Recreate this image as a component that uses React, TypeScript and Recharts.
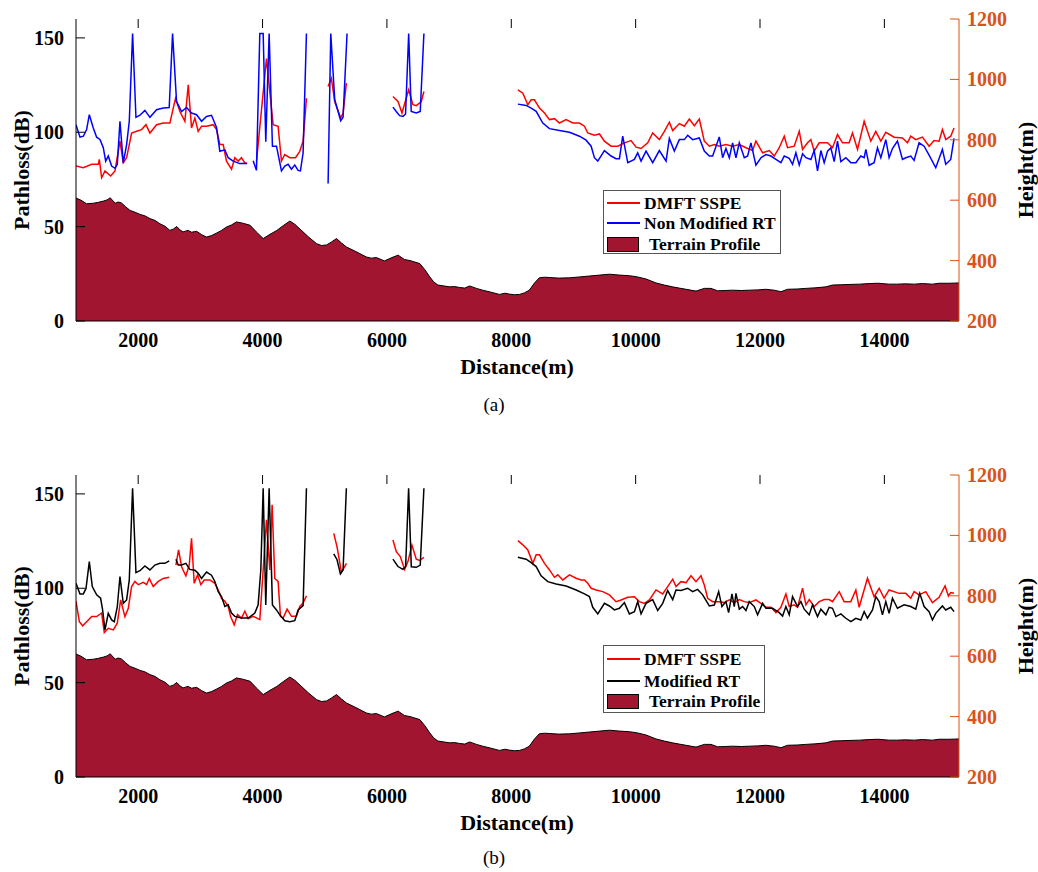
import React from 'react';
import { ComposedChart, Line, Area, XAxis, YAxis } from 'recharts';

type Pt = [number, number];

const xTicks = [2000, 4000, 6000, 8000, 10000, 12000, 14000];
const lossTicks = [0, 50, 100, 150];
const heightTicks = [200, 400, 600, 800, 1000, 1200];

// terrain height (m) along the path
const terrain: Pt[] = [
  [1000, 607], [1080, 600], [1170, 588], [1280, 590], [1360, 593], [1440, 597], [1500, 601], [1550, 608],
  [1630, 590], [1680, 594], [1730, 591], [1800, 578], [1870, 566], [1950, 560], [2030, 553], [2110, 548],
  [2190, 539], [2270, 533], [2350, 522], [2430, 514], [2510, 500], [2570, 505], [2620, 513], [2670, 502],
  [2720, 495], [2800, 500], [2860, 494], [2940, 497], [3020, 486], [3100, 478], [3180, 483], [3260, 491],
  [3340, 500], [3420, 511], [3500, 518], [3580, 528], [3680, 524], [3800, 517], [3900, 495], [4010, 473],
  [4120, 487], [4230, 500], [4340, 517], [4440, 531], [4520, 520], [4600, 505], [4740, 478], [4870, 456],
  [4950, 450], [5030, 452], [5110, 462], [5190, 473], [5270, 458], [5350, 445], [5500, 430], [5670, 412],
  [5750, 408], [5830, 410], [5960, 399], [6080, 410], [6180, 418], [6280, 404], [6390, 399], [6530, 390],
  [6610, 370], [6690, 346], [6750, 330], [6820, 319], [6920, 316], [7010, 313], [7090, 314], [7170, 311],
  [7250, 309], [7330, 316], [7440, 308], [7540, 302], [7680, 295], [7810, 288], [7900, 292], [7970, 289],
  [8050, 287], [8130, 288], [8210, 293], [8290, 302], [8370, 325], [8450, 343], [8530, 345], [8610, 344],
  [8760, 342], [8940, 343], [9100, 346], [9260, 349], [9420, 352], [9580, 355], [9740, 352], [9900, 350],
  [10030, 346], [10168, 339], [10328, 326], [10460, 319], [10595, 313], [10700, 309], [10810, 305], [10971, 299],
  [11104, 308], [11212, 308], [11318, 300], [11440, 301], [11559, 302], [11700, 301], [11827, 302], [11960, 303],
  [12095, 305], [12229, 302], [12336, 297], [12443, 305], [12600, 306], [12738, 308], [12900, 310], [13059, 313],
  [13166, 319], [13300, 320], [13434, 321], [13600, 322], [13755, 324], [13900, 325], [14076, 322], [14200, 322],
  [14344, 323], [14480, 322], [14612, 324], [14772, 322], [14880, 325], [15040, 325], [15200, 326],
];

// (a) DMFT SSPE pathloss, segments separated by gaps
const dmftA: Pt[][] = [
  [[1000, 82.1], [1118, 81.2], [1252, 83], [1359, 83], [1375, 85.6], [1412, 75.9], [1466, 79.5], [1557, 76.8],
   [1627, 79.5], [1707, 95.3], [1760, 83.8], [1814, 86.5], [1894, 99.6], [1975, 100.5], [2055, 101.4], [2125, 104],
   [2189, 99.6], [2296, 104], [2403, 104.9], [2510, 104.9], [2564, 112.8], [2601, 118], [2671, 111], [2751, 105.8],
   [2805, 125.1], [2858, 102.3], [2912, 107.5], [2965, 100.5], [3019, 103.2], [3099, 103.2], [3206, 104], [3260, 101.4],
   [3313, 93.5], [3367, 93.5], [3420, 84.7], [3501, 80.4], [3554, 86.5], [3608, 84.7], [3661, 86.5], [3715, 83.8],
   [3752, 83.4]],
  [[3903, 84.7], [4063, 139], [4170, 104], [4250, 103.2], [4304, 84.7], [4357, 88.2], [4438, 86.5], [4530, 86.5],
   [4598, 89.9], [4652, 95.3], [4706, 118]],
  [[5053, 124.2], [5107, 128.6], [5160, 116.3], [5257, 107.5], [5295, 110.2], [5348, 126]],
  [[6097, 118.9], [6178, 116.3], [6242, 110.2], [6350, 122.5], [6418, 114.6], [6473, 114.1], [6553, 116.3], [6595, 121.6]],
  [[8106, 122.5], [8186, 120.7], [8266, 114.6], [8320, 117.2], [8373, 117.2], [8454, 112.8], [8534, 110.2], [8614, 106.7],
   [8695, 107.2], [8775, 104.9], [8882, 106.7], [8989, 104.9], [9096, 104.9], [9177, 103.2], [9230, 99.6], [9337, 98.4],
   [9418, 99.1], [9498, 95.3], [9605, 92.6], [9712, 92.6], [9819, 94.4], [9926, 95.6], [10007, 92.1], [10087, 91.4],
   [10194, 94.4], [10274, 99.6], [10381, 96.1], [10462, 100.5], [10542, 105.3], [10596, 100.9], [10703, 104.6], [10783, 103.2],
   [10863, 107], [10944, 103.5], [11024, 107], [11104, 95.3], [11185, 92.6], [11265, 93.5], [11345, 92.6], [11452, 93.5],
   [11559, 92.6], [11667, 93.5], [11774, 91.8], [11881, 90.3], [11934, 95.3], [12042, 89.1], [12149, 90.3], [12229, 87.4],
   [12309, 91.8], [12390, 97.9], [12443, 91.8], [12550, 92.6], [12631, 100.5], [12684, 90.9], [12764, 94.4], [12818, 96.1],
   [12871, 90], [12952, 94.4], [13086, 94.4], [13166, 91.8], [13246, 98.8], [13327, 94.4], [13434, 94.4], [13487, 99.6],
   [13568, 90.9], [13675, 105.8], [13782, 95.3], [13862, 100.5], [13943, 95.3], [14023, 100], [14157, 97.4], [14291, 97],
   [14371, 94.4], [14424, 97.9], [14505, 96.1], [14612, 97.4], [14719, 92.6], [14799, 95.6], [14880, 95.3], [14933, 101.4],
   [14987, 96.1], [15067, 97.9], [15120, 102.3]],
];

// (a) Non Modified RT pathloss
const nonModifiedRT: Pt[][] = [
  [[1000, 104], [1064, 97.4], [1118, 97.9], [1171, 101.4], [1214, 109.3], [1278, 102.3], [1332, 97.4], [1386, 96.2],
   [1439, 91.8], [1477, 84.7], [1519, 87.4], [1573, 82.1], [1627, 80.9], [1664, 83], [1707, 105.8], [1760, 83.8],
   [1814, 93.5], [1857, 105.8], [1910, 152.3], [1964, 107.9], [2028, 109], [2108, 111.6], [2189, 107.9], [2296, 111.9],
   [2403, 112.8], [2499, 113.1], [2553, 152.3], [2617, 116.3], [2698, 111], [2778, 113.1], [2858, 110.2], [2939, 109.3],
   [3019, 105.8], [3099, 108.4], [3179, 109], [3260, 102.6], [3313, 89.9], [3394, 90.7], [3447, 86.5], [3528, 84.7],
   [3635, 83.4], [3752, 83.4]],
  [[3849, 84.9], [3902, 79.8], [3956, 152.3], [4010, 152.3], [4052, 95], [4106, 152.3], [4159, 92.6], [4224, 92.6],
   [4304, 79.5], [4357, 82.1], [4411, 83], [4465, 80.4], [4518, 82.6], [4572, 79.8], [4609, 79.5], [4652, 89], [4706, 152.3]],
  [[5054, 72.8], [5097, 152.3], [5161, 117.2], [5257, 106.1], [5295, 107.9], [5359, 152.3]],
  [[6097, 113.3], [6150, 111], [6204, 108.8], [6258, 108.4], [6300, 109.7], [6350, 152.3], [6391, 111], [6472, 110.2],
   [6536, 111], [6595, 152.3]],
  [[8106, 114.9], [8239, 114.2], [8320, 112.8], [8400, 111.1], [8507, 104.9], [8614, 101.9], [8775, 100.9], [8936, 100],
   [9096, 97.9], [9203, 95.8], [9284, 92.6], [9337, 86.5], [9391, 84.7], [9498, 90.3], [9605, 87.4], [9685, 86],
   [9739, 86], [9792, 97.9], [9873, 83.9], [9980, 85.6], [10033, 89.1], [10087, 84.7], [10167, 90], [10274, 83.9],
   [10381, 90.3], [10489, 84.7], [10542, 96.7], [10622, 90], [10703, 96.1], [10783, 96.1], [10837, 98.4], [10917, 96.1],
   [11024, 97], [11104, 90], [11185, 87.4], [11238, 87.4], [11345, 97.5], [11399, 86.5], [11452, 91.4], [11506, 86.5],
   [11559, 94.4], [11613, 86.5], [11667, 94.4], [11747, 86.5], [11801, 87.4], [11854, 94.4], [11934, 82.6], [12015, 86.5],
   [12095, 88.2], [12175, 87.4], [12256, 85.6], [12336, 83.9], [12390, 87.4], [12470, 86.2], [12523, 83], [12577, 89.1],
   [12631, 82.6], [12684, 88.6], [12738, 86.5], [12818, 85.6], [12871, 90.3], [12925, 79.5], [12979, 90.3], [13032, 83.9],
   [13086, 90], [13139, 91.8], [13193, 84.4], [13246, 95.3], [13300, 84.4], [13380, 86.5], [13461, 83.9], [13541, 83.9],
   [13621, 87.4], [13675, 86.5], [13702, 90.9], [13755, 82.5], [13835, 83.9], [13889, 91.8], [13943, 86.5], [14023, 96.1],
   [14076, 86.5], [14130, 91.4], [14210, 95.3], [14291, 85.6], [14344, 86.5], [14424, 87.4], [14478, 85.1], [14558, 94.4],
   [14639, 92.6], [14719, 87.9], [14826, 81.2], [14933, 90.9], [14987, 83], [15067, 85.6], [15120, 96.7]],
];

// (b) DMFT SSPE pathloss
const dmftB: Pt[][] = [
  [[1000, 93.1], [1054, 82.3], [1107, 80.1], [1171, 82.3], [1252, 85], [1332, 85], [1412, 86.9], [1455, 76.5],
   [1519, 78.8], [1600, 77.9], [1664, 81.5], [1718, 93.8], [1787, 85], [1841, 89.4], [1894, 100.9], [1948, 103.6],
   [2001, 101.9], [2082, 103.1], [2135, 101.9], [2178, 105.2], [2242, 100.9], [2323, 103.6], [2403, 105.2], [2499, 105.8]],
  [[2607, 112.3], [2649, 120.3], [2698, 111.4], [2767, 106.5], [2821, 112.3], [2858, 126.5], [2901, 102.6], [2955, 107.1],
   [3008, 101.9], [3062, 104.4], [3153, 104.4], [3233, 102.6], [3287, 99.1], [3340, 94.7], [3394, 93.1], [3447, 90.4],
   [3485, 85.1], [3544, 80.6], [3597, 86], [3661, 84.2], [3715, 87.8], [3769, 83.9], [3849, 85.1], [3956, 83.4],
   [4010, 109.7], [4063, 136.2], [4117, 109.7], [4154, 144.2], [4197, 105.2], [4250, 103.6], [4288, 85.1], [4331, 84.2],
   [4395, 88.9], [4465, 85.1], [4545, 85.1], [4599, 90.4], [4652, 92.1], [4706, 96]],
  [[5145, 129.1], [5198, 121.9], [5268, 108.6], [5305, 110.5], [5348, 113.2]],
  [[6097, 125.6], [6151, 119.4], [6215, 116.8], [6285, 110], [6338, 114.1], [6402, 122.9], [6472, 115.4], [6526, 114.7],
   [6595, 116.4]],
  [[8106, 125.2], [8186, 123], [8266, 120.3], [8347, 113.2], [8400, 117.7], [8454, 117.7], [8534, 113.2], [8614, 109.7],
   [8695, 105.8], [8748, 107.1], [8828, 104.4], [8936, 107.1], [9043, 105.3], [9123, 104.4], [9177, 104.4], [9230, 102.6],
   [9284, 100], [9364, 99.1], [9471, 98.2], [9578, 96.5], [9685, 92.9], [9766, 93.8], [9873, 95.2], [9980, 95.5],
   [10060, 92.9], [10140, 92], [10221, 93.8], [10328, 99.1], [10435, 97], [10515, 100.9], [10596, 104.8], [10649, 100.9],
   [10729, 103.5], [10810, 103], [10890, 106.6], [10970, 103.5], [11051, 106.6], [11104, 101.7], [11158, 94.7], [11238, 92.9],
   [11345, 92.9], [11426, 92.4], [11506, 93.8], [11586, 92.4], [11667, 94], [11747, 92.9], [11827, 92.4], [11934, 93.8],
   [12015, 92], [12095, 89.9], [12175, 89.9], [12256, 87.1], [12336, 89.9], [12416, 97], [12470, 90.3], [12550, 91.2],
   [12604, 89.9], [12684, 100], [12738, 91.2], [12791, 94], [12871, 90.3], [12952, 92.9], [13032, 94], [13112, 94],
   [13166, 92.9], [13273, 98.2], [13353, 92.9], [13460, 92.9], [13541, 99.1], [13594, 89.9], [13728, 105.3], [13835, 95.5],
   [13916, 100], [13996, 94.7], [14076, 99.1], [14237, 97.3], [14344, 97.3], [14424, 94.7], [14478, 98.2], [14558, 96.5],
   [14665, 98.2], [14773, 92.4], [14880, 95.2], [14976, 101.2], [15030, 95.9], [15067, 97.7], [15120, 97.3]],
];

// (b) Modified RT pathloss
const modifiedRT: Pt[][] = [
  [[1000, 102.6], [1064, 97], [1118, 97], [1161, 99.9], [1214, 114.1], [1262, 100.9], [1332, 96.5], [1396, 94.7],
   [1428, 88.5], [1466, 77.9], [1519, 86.7], [1573, 83.2], [1616, 82.3], [1664, 90.2], [1707, 106.2], [1760, 92],
   [1814, 93.8], [1857, 104.4], [1910, 153], [1964, 108.3], [2028, 109.3], [2108, 111.8], [2189, 109.7], [2269, 112.3],
   [2349, 113.2], [2430, 113.2], [2499, 114.5]],
  [[2607, 115.4], [2644, 112.3], [2698, 112.3], [2767, 113.2], [2831, 110], [2912, 109.5], [2965, 107.9], [3019, 105.2],
   [3099, 108.6], [3179, 106.9], [3233, 103.6], [3287, 98.2], [3340, 95.6], [3394, 90.4], [3447, 91.2], [3501, 86.9],
   [3554, 85.1], [3661, 84.2], [3769, 84.2], [3876, 86.9], [3929, 91.2], [3972, 109.7], [4010, 153], [4052, 91.2],
   [4106, 153], [4159, 91.2], [4224, 88.5], [4277, 85.9], [4358, 82.8], [4438, 82.3], [4518, 82.8], [4572, 88.5],
   [4652, 90.8], [4706, 153]],
  [[5145, 118.2], [5198, 115.1], [5252, 107.6], [5295, 109.7], [5348, 153]],
  [[6097, 115.4], [6178, 111.5], [6258, 110], [6301, 111.5], [6349, 153], [6392, 111.4], [6472, 111.1], [6536, 112.3],
   [6595, 153]],
  [[8106, 116.4], [8239, 115.4], [8320, 113.6], [8400, 111.5], [8480, 106.6], [8587, 103.5], [8721, 102.3], [8882, 101.2],
   [9043, 99.1], [9177, 97], [9257, 95.6], [9310, 89.9], [9391, 86.4], [9498, 92], [9578, 90.6], [9658, 88.5],
   [9739, 89.4], [9819, 92.4], [9899, 86.4], [9980, 87.6], [10033, 92.9], [10087, 86.4], [10167, 92], [10274, 94],
   [10355, 88.2], [10435, 92], [10515, 98.8], [10596, 94], [10649, 99.1], [10729, 98.8], [10837, 100], [10917, 98.2],
   [10997, 99.4], [11078, 96.5], [11185, 90.6], [11265, 91.1], [11335, 98.2], [11388, 90.3], [11452, 92.9], [11495, 87.1],
   [11549, 97], [11586, 90.3], [11613, 97.3], [11667, 88.9], [11720, 90.3], [11774, 88.2], [11827, 92.9], [11908, 90.3],
   [11961, 85.9], [12042, 92], [12095, 89.4], [12202, 89.4], [12309, 87.1], [12363, 85.3], [12416, 90.3], [12470, 85.9],
   [12523, 95.6], [12604, 90.3], [12657, 92.9], [12711, 88.9], [12791, 85.9], [12845, 91.2], [12925, 85], [12979, 88.9],
   [13059, 85.9], [13112, 89.9], [13166, 89.4], [13220, 85], [13300, 86.4], [13380, 84.1], [13461, 82.3], [13541, 84.1],
   [13621, 83.2], [13675, 87.6], [13728, 84.1], [13809, 88.5], [13862, 95.6], [13916, 92.9], [13969, 85.9], [14023, 92.9],
   [14076, 86.7], [14130, 94.7], [14210, 89.4], [14317, 91.2], [14424, 90.3], [14505, 88.9], [14569, 97.3], [14639, 90.3],
   [14719, 87.6], [14773, 83.2], [14826, 86.7], [14933, 90.6], [14987, 88.5], [15067, 89.9], [15120, 87.6]],
];

const ORANGE = '#D95319';
const TERRAIN = '#A11530';
const FONT = '"Liberation Serif", "Times New Roman", serif';
const TICK_LEN = 9;
const PLOT_H = 302;
const BOTTOM_MARGIN = 12;

// flatten segments, a null row between them breaks the line
const toRows = (segs: Pt[][]) => {
  const rows: { d: number; v: number | null }[] = [];
  segs.forEach((seg, i) => {
    if (i > 0) {
      const prev = segs[i - 1];
      rows.push({ d: (prev[prev.length - 1][0] + seg[0][0]) / 2, v: null });
    }
    seg.forEach(([d, v]) => rows.push({ d, v }));
  });
  return rows;
};

const terrainRows = terrain.map(([d, h]) => ({ d, h }));

const labelStyle = { fontSize: 20, fontWeight: 'bold' as const, fontFamily: FONT };

// MATLAB-like ticks pointing into the plot
const LeftTick = (props: any) => {
  const { x, y, payload } = props;
  const axisX = x + 12;
  return (
    <g>
      <line x1={axisX} x2={axisX + TICK_LEN} y1={y} y2={y} stroke="#000" />
      <text x={x} y={y} dy="0.35em" textAnchor="end" fill="#000" style={labelStyle}>{payload.value}</text>
    </g>
  );
};

const RightTick = (props: any) => {
  const { x, y, payload } = props;
  const axisX = x - 8;
  return (
    <g>
      <line x1={axisX} x2={axisX - TICK_LEN} y1={y} y2={y} stroke={ORANGE} />
      <text x={x} y={y} dy="0.35em" textAnchor="start" fill={ORANGE} style={labelStyle}>{payload.value}</text>
    </g>
  );
};

// bottom label, plus the tick mark hanging from the top border of the box
const BottomTick = (props: any) => {
  const { x, y, payload } = props;
  const topY = y - BOTTOM_MARGIN - PLOT_H;
  return (
    <g>
      <line x1={x} x2={x} y1={topY} y2={topY + TICK_LEN} stroke="#000" />
      <text x={x} y={y} dy="0.71em" textAnchor="middle" fill="#000" style={labelStyle}>{payload.value}</text>
    </g>
  );
};

interface PanelProps {
  top: number;
  marginTop: number;
  marginBottom: number;
  series: { name: string; color: string; segs: Pt[][] }[];
  legend: { left: number; top: number; width: number; height: number; rows: number[]; rect: [number, number] };
  caption: string;
  labelY: number;
  captionY: number;
}

const Panel: React.FC<PanelProps> = ({ top, marginTop, marginBottom, series, legend, caption, labelY, captionY }) => {
  const plotMid = top + marginTop + PLOT_H / 2;
  return (
    <>
      <div style={{ position: 'absolute', left: 0, top }}>
        <ComposedChart width={1038} height={436} margin={{ top: marginTop, right: 19, left: 20, bottom: marginBottom }}>
          <XAxis
            dataKey="d" type="number" domain={[1000, 15200]} ticks={xTicks} allowDataOverflow
            height={40} tickSize={0} tickLine={false} tickMargin={BOTTOM_MARGIN} stroke="#000"
            tick={<BottomTick />}
          />
          <XAxis
            xAxisId="top" dataKey="d" orientation="top" type="number" domain={[1000, 15200]} ticks={xTicks} allowDataOverflow
            height={0} tickSize={0} tickLine={false} tick={false} stroke="#000"
          />
          <YAxis
            yAxisId="loss" domain={[0, 160]} ticks={lossTicks} allowDataOverflow
            width={56} tickSize={0} tickLine={false} tickMargin={12} stroke="#000" tick={<LeftTick />}
          />
          <YAxis
            yAxisId="h" orientation="right" domain={[200, 1200]} ticks={heightTicks} allowDataOverflow
            width={60} tickSize={0} tickLine={false} tickMargin={8} stroke={ORANGE} tick={<RightTick />}
          />
          {/* terrain is tied to the top axis so that the box border gets drawn */}
          <Area
            xAxisId="top" yAxisId="h" data={terrainRows} dataKey="h" type="linear" fill={TERRAIN} fillOpacity={1}
            stroke="#000" strokeWidth={1} isAnimationActive={false} dot={false} activeDot={false}
          />
          {series.map((s) => (
            <Line
              key={s.name} yAxisId="loss" data={toRows(s.segs)} dataKey="v" type="linear" stroke={s.color}
              strokeWidth={1.5} dot={false} activeDot={false} isAnimationActive={false} connectNulls={false}
            />
          ))}
        </ComposedChart>
      </div>
      <div style={{ position: 'absolute', left: 22, top: plotMid, transform: 'translate(-50%, -50%) rotate(-90deg)', fontSize: 22, fontWeight: 'bold', whiteSpace: 'nowrap' }}>
        Pathloss(dB)
      </div>
      <div style={{ position: 'absolute', left: 1026, top: plotMid, transform: 'translate(-50%, -50%) rotate(-90deg)', fontSize: 22, fontWeight: 'bold', whiteSpace: 'nowrap' }}>
        Height(m)
      </div>
      <div style={{ position: 'absolute', left: 517, top: labelY, transform: 'translate(-50%, -50%)', fontSize: 22, fontWeight: 'bold', whiteSpace: 'nowrap' }}>
        Distance(m)
      </div>
      <div style={{ position: 'absolute', left: 494, top: captionY, transform: 'translate(-50%, -50%)', fontSize: 19, whiteSpace: 'nowrap' }}>
        {caption}
      </div>
      <div style={{ position: 'absolute', left: legend.left, top: legend.top, width: legend.width, height: legend.height, border: '1px solid #555', background: '#fff', boxSizing: 'border-box', fontSize: 17.5, fontWeight: 'bold' }}>
        {series.map((s, i) => (
          <div key={s.name} style={{ position: 'absolute', left: 3, top: legend.rows[i] - legend.top - 11, height: 22, display: 'flex', alignItems: 'center', whiteSpace: 'nowrap' }}>
            <span style={{ display: 'inline-block', width: 33, height: 2, background: s.color, marginRight: 4 }} />
            {s.name}
          </div>
        ))}
        <div style={{ position: 'absolute', left: 3, top: legend.rect[0] - legend.top, height: legend.rect[1] - legend.rect[0], display: 'flex', alignItems: 'center', whiteSpace: 'nowrap' }}>
          <span style={{ display: 'inline-block', width: 32, height: legend.rect[1] - legend.rect[0], background: TERRAIN, border: '1px solid #000', boxSizing: 'border-box', marginRight: 10 }} />
          Terrain Profile
        </div>
      </div>
    </>
  );
};

export default function App() {
  return (
    <div style={{ position: 'absolute', left: 0, top: 0, width: 1038, height: 872, background: '#fff', fontFamily: FONT, color: '#000' }}>
      <Panel
        top={0} marginTop={19} marginBottom={75}
        series={[
          { name: 'DMFT SSPE', color: '#FF0000', segs: dmftA },
          { name: 'Non Modified RT', color: '#0000FF', segs: nonModifiedRT },
        ]}
        legend={{ left: 603, top: 190, width: 178, height: 64, rows: [202, 222], rect: [236, 251] }}
        caption="(a)" labelY={367} captionY={405}
      />
      <Panel
        top={436} marginTop={39} marginBottom={55}
        series={[
          { name: 'DMFT SSPE', color: '#FF0000', segs: dmftB },
          { name: 'Modified RT', color: '#000000', segs: modifiedRT },
        ]}
        legend={{ left: 603, top: 645, width: 162, height: 68, rows: [658, 680], rect: [693, 708] }}
        caption="(b)" labelY={823} captionY={858}
      />
    </div>
  );
}
